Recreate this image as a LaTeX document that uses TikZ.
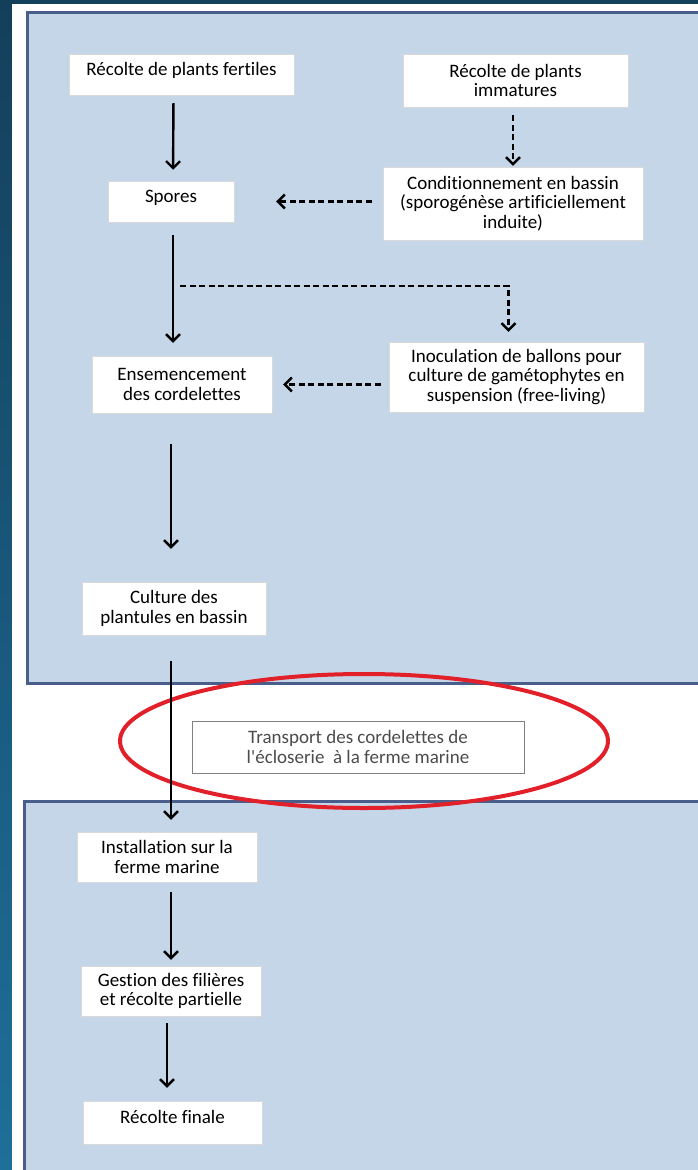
\documentclass[tikz,border=0pt]{standalone}
\usepackage{fontspec}
\setmainfont[Ligatures={NoCommon}]{Carlito}
\usepackage{tikz}
\usetikzlibrary{arrows.meta, calc}
\definecolor{fond}{HTML}{C6D6E9}
\definecolor{bord}{HTML}{4A5E8C}
\definecolor{nuit}{HTML}{143F5A}
\definecolor{mer}{HTML}{1E6F9A}
\definecolor{cercle}{HTML}{E2202A}

\begin{document}
\begin{tikzpicture}[x=1pt, y=-1pt, >={Straight Barb[length=7pt,width=14pt]},
  every node/.style={font=\fontsize{19}{19.5}\selectfont},
  etape/.style={draw=black!15, fill=white, inner sep=0pt, align=center},
  ligne/.style={text depth=11pt},
  fleche/.style={->, line width=2.4pt},
  pointille/.style={->, line width=2.4pt, dash pattern=on 6pt off 3.5pt}]

\shade[top color=nuit, bottom color=mer] (0,0) rectangle (698,1170);
\fill[white] (12,4) rectangle (698,1170);
\begin{scope}
  \clip (0,0) rectangle (698,1170);
  \draw[bord, line width=3pt, fill=fond] (27,12) rectangle (720,683);
  \draw[bord, line width=3pt, fill=fond] (24,801) rectangle (720,1190);
\end{scope}
\useasboundingbox (0,0) rectangle (698,1170);

\node[etape, ligne, minimum width=225pt, minimum height=41pt] (fertiles) at (181.5,74.5) {Récolte de plants fertiles};
\node[etape, minimum width=225pt, minimum height=53pt] (immatures) at (515.5,80.5) {Récolte de plants\\immatures};
\node[etape, ligne, minimum width=126pt, minimum height=41pt] (spores) at (171,201.5) {Spores};
\node[etape, minimum width=260pt, minimum height=73pt] (cond) at (513,203.5) {Conditionnement en bassin\\(sporogénèse artificiellement\\induite)};
\node[etape, minimum width=180pt, minimum height=57pt] (ensem) at (182,384.5) {Ensemencement\\des cordelettes};
\node[etape, minimum width=255pt, minimum height=70pt] (inoc) at (516.5,377) {Inoculation de ballons pour\\culture de gamétophytes en\\suspension (free-living)};
\node[etape, minimum width=184pt, minimum height=53pt] (culture) at (174,608.5) {Culture des\\plantules en bassin};

\draw[cercle, line width=4pt] (364,741) ellipse [x radius=244, y radius=67];
\node[etape, draw=black!50, line width=1pt, text=black!70, minimum width=332pt, minimum height=52pt] (transport) at (358,747) {Transport des cordelettes de\\l\textquotesingle écloserie\ \ à la ferme marine};

\node[etape, minimum width=180pt, minimum height=50pt] (install) at (167,857) {Installation sur la\\ferme marine};
\node[etape, minimum width=180pt, minimum height=50pt] (gestion) at (171,991) {Gestion des filières\\et récolte partielle};
\node[etape, ligne, minimum width=179pt, minimum height=43pt] (finale) at (172.5,1122.5) {Récolte finale};

\draw[fleche, shorten <=8pt, shorten >=11pt] ([xshift=-8pt]fertiles.south) -- ([xshift=2pt]spores.north);
\draw[fleche, shorten <=13pt, shorten >=13pt] ([xshift=2pt]spores.south) -- ([xshift=2pt]spores.south |- ensem.north);
\draw[fleche, shorten <=31pt, shorten >=33pt] ([xshift=-3pt]culture.north |- ensem.south) -- ([xshift=-3pt]culture.north);
\draw[fleche, shorten <=26pt, shorten >=12pt] ([xshift=-3pt]culture.south) -- ([xshift=-3pt]culture.south |- install.north);
\draw[fleche, shorten <=10pt, shorten >=6pt] ([xshift=4pt]install.south) -- ([xshift=4pt]install.south |- gestion.north);
\draw[fleche, shorten <=7pt, shorten >=13pt] ([xshift=-4pt]gestion.south) -- ([xshift=-4pt]gestion.south |- finale.north);

\draw[pointille, shorten <=8pt, shorten >=1pt] ([xshift=-2.5pt]immatures.south) -- ([xshift=-2.5pt]immatures.south |- cond.north);
\draw[pointille, shorten <=11pt, shorten >=42pt] (cond.west |- spores) -- (spores.east);
\coordinate (branche) at (180,286);
\draw[pointille, shorten >=10pt] (branche) -| ([xshift=-8pt]inoc.north);
\draw[pointille, shorten <=8pt, shorten >=11pt] (inoc.west |- ensem) -- (ensem.east);

\end{tikzpicture}
\end{document}
